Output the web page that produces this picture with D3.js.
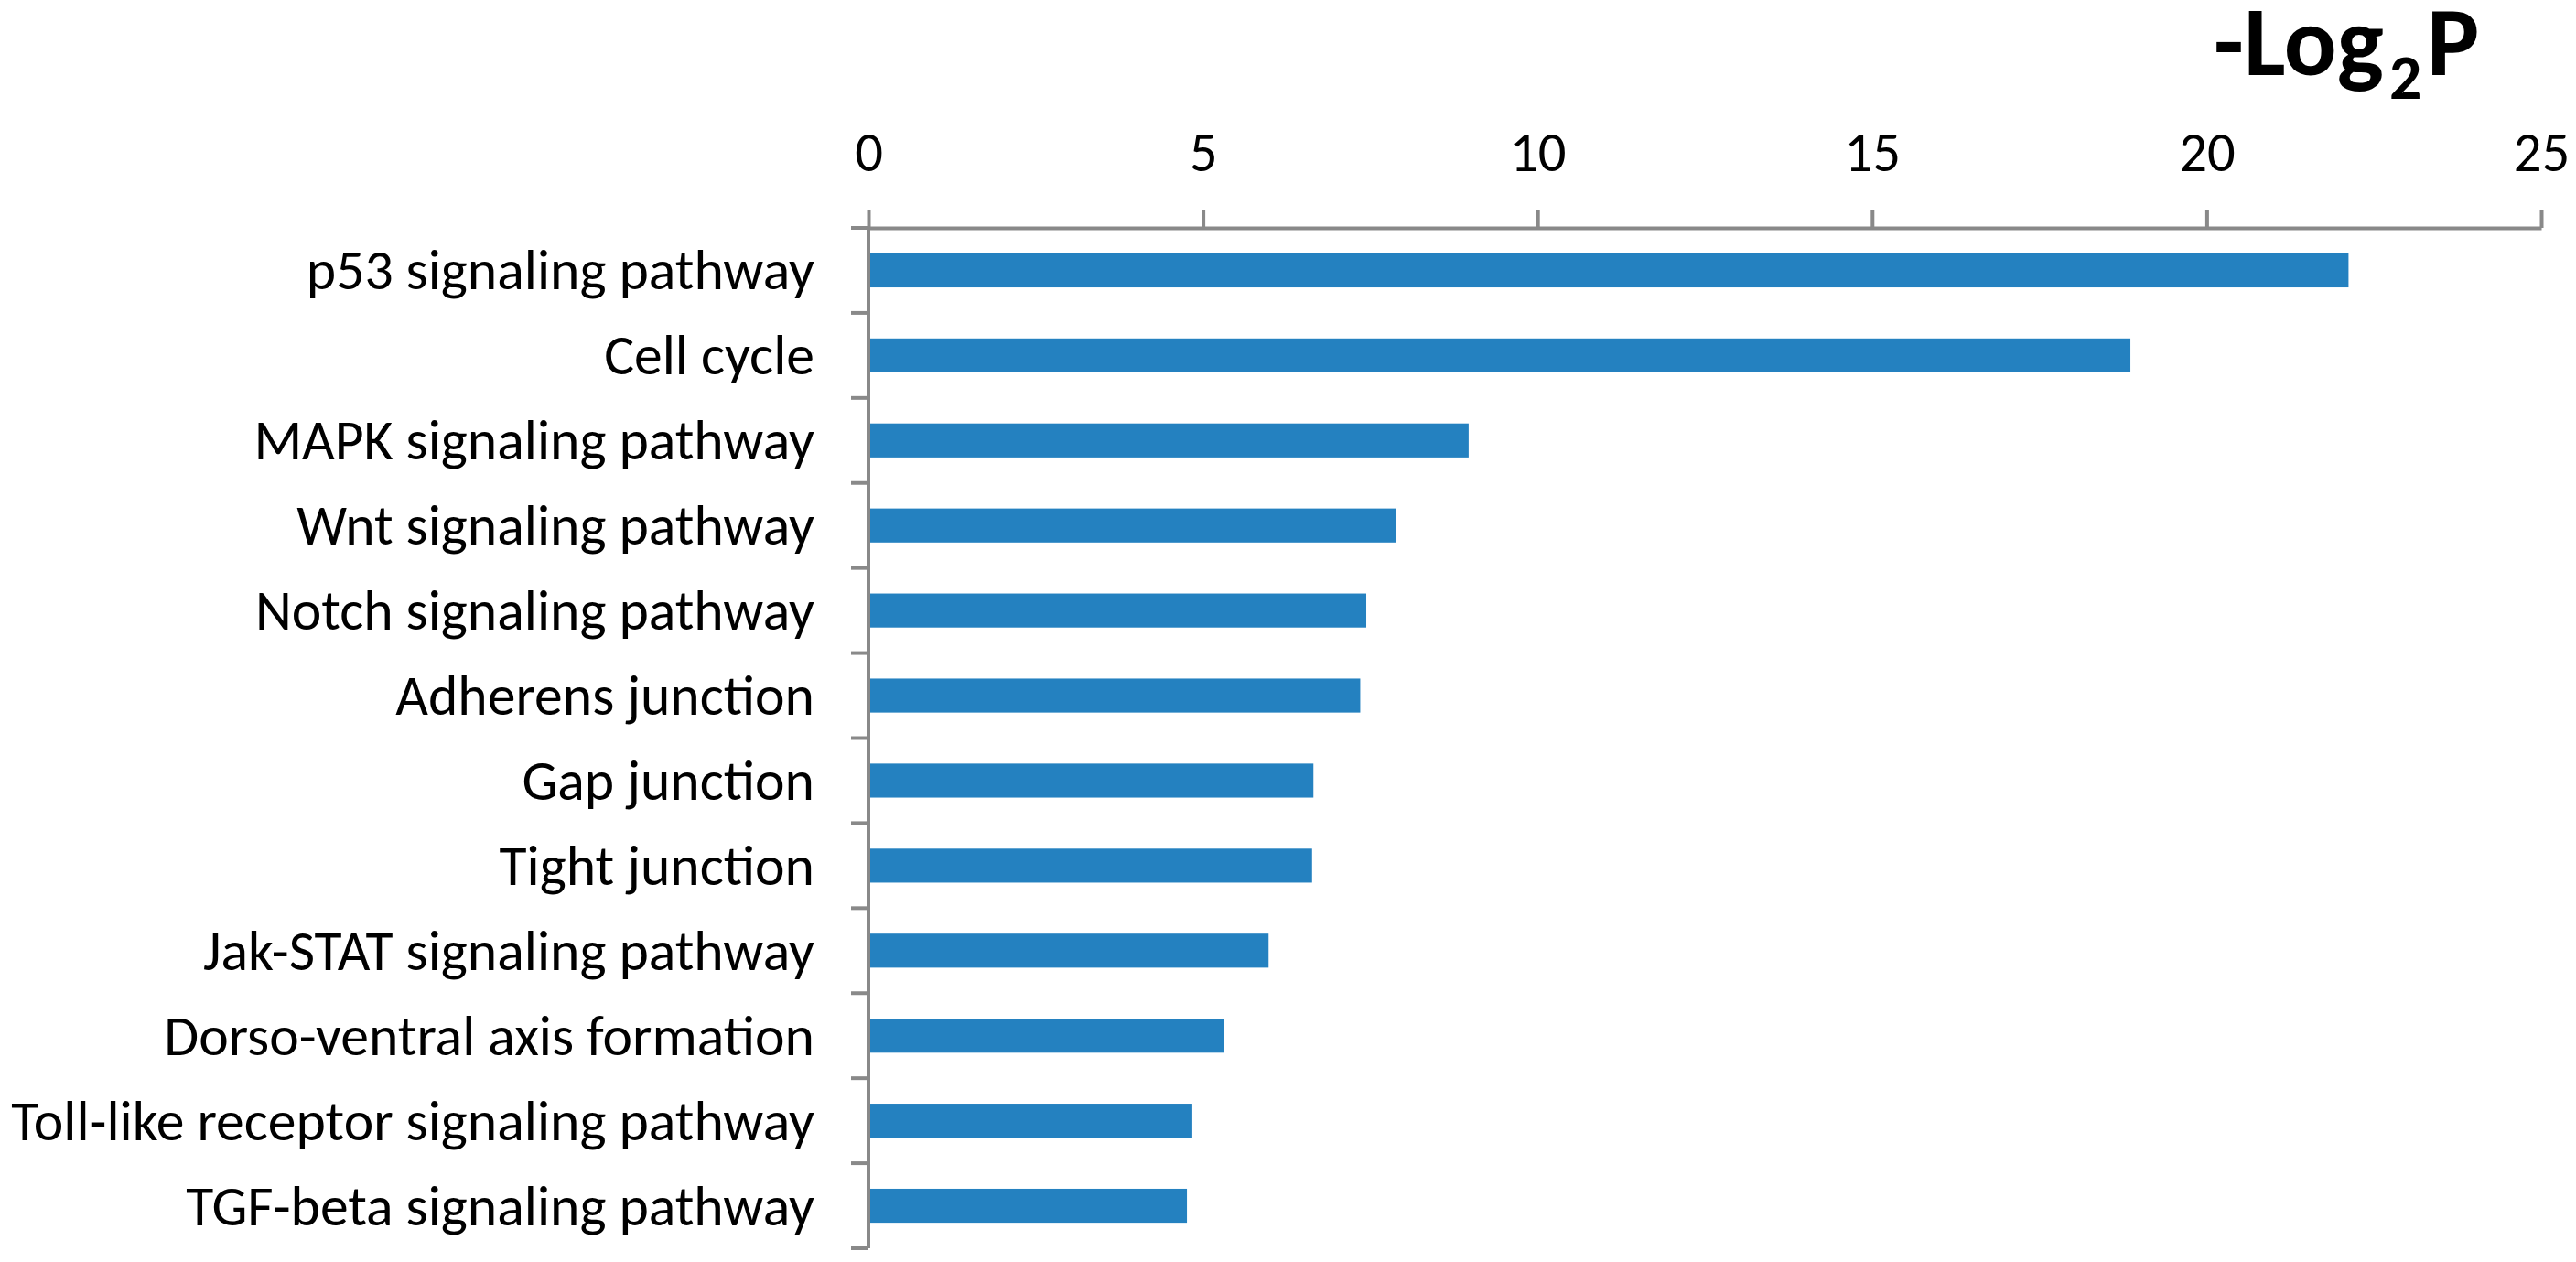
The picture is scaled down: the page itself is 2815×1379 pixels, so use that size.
<!DOCTYPE html>
<html>
<head>
<meta charset="utf-8">
<script src="https://cdn.jsdelivr.net/npm/d3@7"></script>
<style>
  html, body { margin: 0; padding: 0; background: #ffffff; }
  svg { display: block; }
</style>
</head>
<body>
<svg id="chart" width="2815" height="1379"></svg>
<script>
// ---- data ----
const categories = [
  "p53 signaling pathway",
  "Cell cycle",
  "MAPK signaling pathway",
  "Wnt signaling pathway",
  "Notch signaling pathway",
  "Adherens junction",
  "Gap junction",
  "Tight junction",
  "Jak-STAT signaling pathway",
  "Dorso-ventral axis formation",
  "Toll-like receptor signaling pathway",
  "TGF-beta signaling pathway"
];
const values = [22.12, 18.86, 8.97, 7.89, 7.44, 7.35, 6.65, 6.63, 5.98, 5.32, 4.84, 4.76];
const xTicks = [0, 5, 10, 15, 20, 25];
const titleMain = "-Log";
const titleSub = "2";
const titleEnd = "P";

// ---- layout ----
const plotLeft = 949, plotRight = 2777, plotTop = 249, plotBottom = 1364;
const axisColor = "#898989";
const barColor = "#2481c0";
const fontFam = "Calibri, Carlito, Lato, 'Open Sans', sans-serif";

const svg = d3.select("#chart");

const x = d3.scaleLinear().domain([0, 25]).range([plotLeft, plotRight]);
const y = d3.scaleBand().domain(categories).range([plotTop, plotBottom])
  .paddingInner(0.6).paddingOuter(0.3);

// bars
svg.append("g").selectAll("rect")
  .data(categories)
  .join("rect")
  .attr("x", x(0))
  .attr("y", d => y(d))
  .attr("width", (d, i) => x(values[i]) - x(0))
  .attr("height", y.bandwidth())
  .attr("fill", barColor);

// x axis (top)
const xAxis = d3.axisTop(x).tickValues(xTicks).tickFormat(d3.format("d"))
  .tickSizeInner(19).tickSizeOuter(0).tickPadding(43);
const gx = svg.append("g").attr("transform", `translate(0,${plotTop})`).call(xAxis);
gx.select(".domain").attr("stroke", axisColor).attr("stroke-width", 4);
gx.selectAll(".tick line").attr("stroke", axisColor).attr("stroke-width", 4);
gx.selectAll(".tick text")
  .attr("fill", "#000").style("font-family", fontFam).style("font-size", "60px");

// y axis (left): labels at band centers, ticks at band boundaries
const yAxis = d3.axisLeft(y).tickSize(0).tickPadding(59);
const gy = svg.append("g").attr("transform", `translate(${plotLeft},0)`).call(yAxis);
gy.select(".domain").remove();
const labels = gy.selectAll(".tick text")
  .attr("fill", "#000").style("font-family", fontFam).style("font-size", "61px")
  .attr("dy", "0.34em");

// fit longest label to the reference width (~878px)
let maxW = 0;
labels.each(function() { maxW = Math.max(maxW, this.getComputedTextLength()); });
const fs = maxW > 0 ? 61 * 878 / maxW : 61;
labels.style("font-size", fs + "px");
gx.selectAll(".tick text").style("font-size", (fs * 60 / 61) + "px");

// vertical axis line
svg.append("line")
  .attr("x1", plotLeft).attr("x2", plotLeft)
  .attr("y1", plotTop).attr("y2", plotBottom)
  .attr("stroke", axisColor).attr("stroke-width", 4);

// boundary ticks
const bounds = d3.range(categories.length + 1).map(i => plotTop + i * y.step());
svg.append("g").selectAll("line")
  .data(bounds)
  .join("line")
  .attr("x1", plotLeft - 19).attr("x2", plotLeft)
  .attr("y1", d => d).attr("y2", d => d)
  .attr("stroke", axisColor).attr("stroke-width", 4);

// title: -Log2P (bold, subscript 2); size by measured glyph heights
const ctx = document.createElement("canvas").getContext("2d");
ctx.font = "bold 100px " + fontFam;
const capA = ctx.measureText("L").actualBoundingBoxAscent || 68;
const digA = ctx.measureText("2").actualBoundingBoxAscent || 66;
const mainSize = 100 * 70 / capA;
const subSize = 100 * 46 / digA;

const title = svg.append("text")
  .attr("y", 82)
  .style("font-family", fontFam)
  .style("font-weight", "bold")
  .style("font-size", mainSize + "px")
  .attr("fill", "#000");
title.append("tspan").attr("x", 2419).text(titleMain);
title.append("tspan").attr("x", 2611).attr("y", 108)
  .style("font-size", subSize + "px").text(titleSub);
title.append("tspan").attr("x", 2652).attr("y", 82).text(titleEnd);
</script>
</body>
</html>
